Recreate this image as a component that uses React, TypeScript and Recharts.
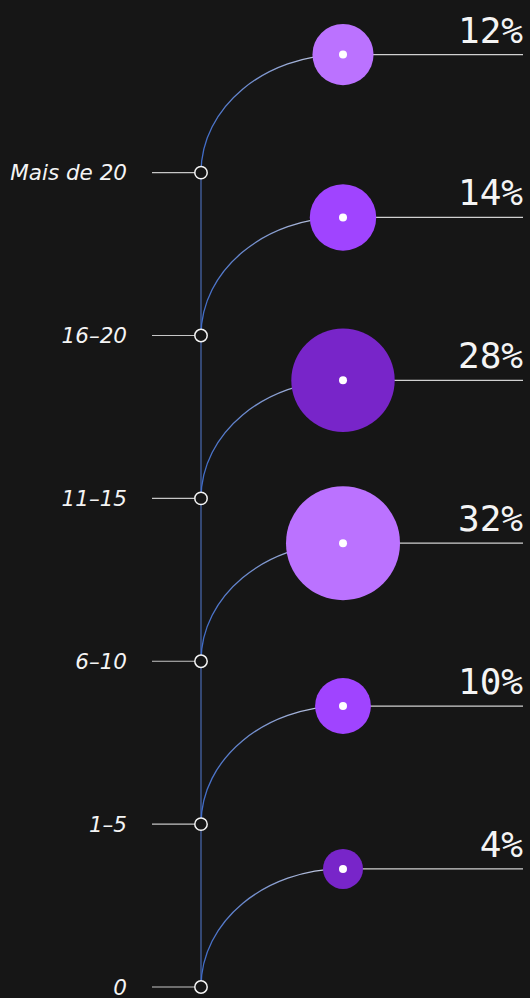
import React from "react"
import { ComposedChart, Line, Scatter, XAxis, YAxis, ZAxis, LabelList } from "recharts"

// experience bands, bottom to top, and the share of people in each
const bands = ["0", "1–5", "6–10", "11–15", "16–20", "Mais de 20"]
const shares = [4, 10, 32, 28, 14, 12]
const bubbleColors = ["#7825c9", "#a044ff", "#bb72ff", "#7825c9", "#a044ff", "#bb72ff"]

const BUBBLE_X = 0.441
const BUBBLE_LIFT = 0.725

const tickPoints = bands.map((b, i) => ({ x: 0, y: i, band: b }))
const bubbles = shares.map((s, i) => ({ x: BUBBLE_X, y: i + BUBBLE_LIFT, share: s }))
const spine = [{ x: 0, y: 0 }, { x: 0, y: bands.length - 1 }]

// quarter-ellipse between consecutive points: leaves vertically, arrives horizontally
const quarterArc = (context: any) => {
  let x0 = 0
  let y0 = 0
  let n = 0
  return {
    areaStart() {},
    areaEnd() {},
    lineStart() {
      n = 0
    },
    lineEnd() {},
    point(x: number, y: number) {
      if (n === 0) context.moveTo(x, y)
      else {
        const k = 0.5523
        context.bezierCurveTo(x0, y0 + (y - y0) * k, x - (x - x0) * k, y, x, y)
      }
      x0 = x
      y0 = y
      n++
    },
  }
}

const BandTick = (props: any) => {
  const { x, y, payload } = props
  return (
    <text x={x} y={y} dy="0.35em" textAnchor="end" fill="#f4f4f4" fontSize={21.5} fontStyle="italic" fontFamily="'DejaVu Sans', sans-serif">
      {bands[payload.value]}
    </text>
  )
}

const TickMarker = (props: any) => (
  <circle cx={props.cx} cy={props.cy} r={6.2} fill="#161616" stroke="#f4f4f4" strokeWidth={1.5} />
)

const Bubble = (props: any) => {
  const r = props.size ?? Math.PI * (props.width / 2) ** 2
  return <circle cx={props.cx} cy={props.cy} r={r} fill={bubbleColors[props.index]} />
}

const CenterDot = (props: any) => <circle cx={props.cx} cy={props.cy} r={4} fill="#ffffff" />

const PctLabel = (props: any) => {
  const { x, y, value } = props
  if (value == null) return null
  return (
    <text x={x} y={y - 12} textAnchor="end" fill="#f4f4f4" fontSize={36} fontFamily="'DejaVu Sans Mono', monospace">
      {value}%
    </text>
  )
}

export default function App() {
  return (
    <div style={{ width: 530, height: 998, background: "#161616" }}>
      <style>{`body{margin:0;background:#161616}`}</style>
      <ComposedChart width={530} height={998} margin={{ top: 0, right: 7, bottom: 11, left: 0 }}>
        <defs>
          <linearGradient id="arcGrad" x1="0" y1="0" x2="1" y2="0">
            <stop offset="0%" stopColor="#3f6bc8" />
            <stop offset="45%" stopColor="#7f97cf" />
            <stop offset="100%" stopColor="#d6d8e6" />
          </linearGradient>
        </defs>
        <XAxis dataKey="x" type="number" domain={[0, 1]} hide />
        <YAxis
          dataKey="y"
          type="number"
          domain={[0, 6.06]}
          ticks={[0, 1, 2, 3, 4, 5]}
          width={201}
          axisLine={false}
          tickSize={49}
          tickMargin={25}
          tickLine={{ stroke: "#c6c6c6", strokeWidth: 1.2 }}
          tick={<BandTick />}
        />
        <ZAxis dataKey="share" type="number" domain={[4, 32]} range={[20, 57]} />

        <Line data={spine} dataKey="y" stroke="#4a6cb4" strokeWidth={1.2} dot={false} isAnimationActive={false} />

        {bubbles.map((b, i) => (
          <Line
            key={`arc-${i}`}
            data={[tickPoints[i], b]}
            dataKey="y"
            type={quarterArc as any}
            stroke="url(#arcGrad)"
            strokeWidth={1.3}
            dot={false}
            isAnimationActive={false}
          />
        ))}

        <Scatter data={bubbles} dataKey="y" shape={<Bubble />} isAnimationActive={false} />

        {bubbles.map((b, i) => (
          <Line
            key={`lead-${i}`}
            data={[b, { x: 1, y: b.y, pct: b.share }]}
            dataKey="y"
            stroke="#d0d0d0"
            strokeWidth={1.3}
            dot={false}
            isAnimationActive={false}
          >
            <LabelList dataKey="pct" content={<PctLabel />} />
          </Line>
        ))}

        <Scatter data={bubbles} dataKey="y" shape={<CenterDot />} isAnimationActive={false} />
        <Scatter data={tickPoints} dataKey="y" shape={<TickMarker />} isAnimationActive={false} />
      </ComposedChart>
    </div>
  )
}
